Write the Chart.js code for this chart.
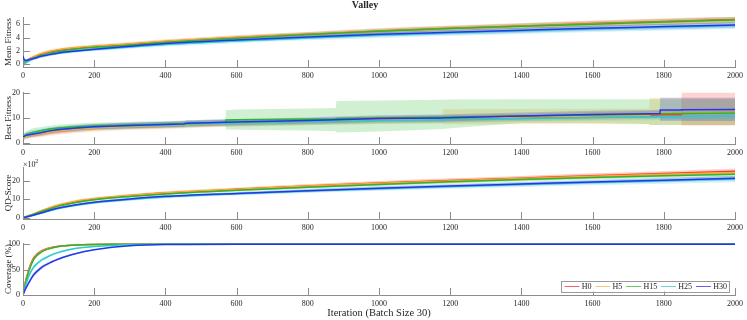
<!DOCTYPE html>
<html><head><meta charset="utf-8">
<script src="https://cdn.jsdelivr.net/npm/chart.js@4/dist/chart.umd.min.js"></script>
<style>
html,body{margin:0;padding:0;background:#fff;width:747px;height:320px;overflow:hidden;position:relative}
canvas{position:absolute;left:0}
</style></head><body>
<canvas id="c1" width="747" height="81" style="top:0px"></canvas>
<canvas id="c2" width="747" height="76" style="top:82px"></canvas>
<canvas id="c3" width="747" height="78" style="top:155px"></canvas>
<canvas id="c4" width="747" height="87" style="top:233px"></canvas>
<script>
// ---------------- data ----------------
const SERIES = ['H0','H5','H15','H25','H30'];
const ITER_TICKS = [0,200,400,600,800,1000,1200,1400,1600,1800,2000];

// Mean Fitness
const MF_X = [0,5,10,20,35,50,75,100,150,200,300,400,600,800,1000,1200,1400,1600,1800,2000];
const mfH0  = [0.0,0.3,0.5,0.85,1.2,1.5,1.85,2.1,2.45,2.65,3.0,3.4,4.0,4.5,5.0,5.4,5.75,6.1,6.4,6.7];
const mfH5  = [-0.2,0.1,0.4,0.85,1.25,1.6,1.95,2.2,2.5,2.7,3.05,3.45,4.05,4.5,4.95,5.35,5.7,6.05,6.35,6.6];
const mfH15 = [0.3,0.35,0.45,0.7,1.05,1.35,1.65,1.95,2.3,2.55,2.9,3.3,3.9,4.45,4.95,5.35,5.7,6.0,6.35,6.65];
const mfH25 = [0.0,0.15,0.3,0.6,0.95,1.2,1.5,1.7,2.0,2.2,2.6,2.95,3.5,3.95,4.35,4.7,5.0,5.3,5.55,5.8];
const mfH30 = [1.2,0.6,0.6,0.75,0.95,1.2,1.45,1.7,2.0,2.25,2.7,3.1,3.65,4.1,4.5,4.8,5.1,5.4,5.65,5.9];
const mfSdH0  = [0.10,0.2,0.2,0.2,0.2,0.2,0.2,0.2,0.22,0.24,0.26,0.28,0.32,0.36,0.4,0.42,0.44,0.46,0.48,0.5];
const mfSdH5  = [0.25,0.25,0.25,0.25,0.25,0.25,0.25,0.25,0.25,0.26,0.28,0.3,0.32,0.35,0.38,0.4,0.42,0.44,0.46,0.48];
const mfSdH15 = [0.15,0.15,0.18,0.2,0.2,0.2,0.2,0.2,0.21,0.22,0.24,0.26,0.28,0.3,0.33,0.36,0.38,0.4,0.42,0.44];
const mfSdH25 = [0.15,0.2,0.22,0.25,0.25,0.25,0.25,0.25,0.25,0.26,0.28,0.3,0.33,0.36,0.4,0.42,0.44,0.46,0.48,0.5];
const mfSdH30 = [0.35,0.2,0.2,0.2,0.2,0.2,0.2,0.2,0.2,0.2,0.22,0.25,0.28,0.3,0.32,0.34,0.36,0.38,0.4,0.42];
const MF_TICKS = [0,2,4,6];

// Best Fitness (lower / upper envelope given directly)
const BF_X = [0,10,25,50,75,100,150,200,300,400,450,460,500,569,570,600,800,879,880,1000,1179,1180,1200,1400,1600,1759,1760,1789,1790,1849,1850,2000];
const bfH0    = [2.2,3.0,3.5,4.0,4.6,5.0,5.7,6.2,6.8,7.2,7.4,7.5,7.7,8.0,8.0,8.1,8.7,8.9,8.9,9.3,9.6,9.6,9.7,10.2,10.8,11.2,11.2,11.3,11.3,11.3,12.0,12.2];
const bfLoH0  = [1.4,2.0,2.4,2.8,3.4,3.8,4.5,5.0,5.6,6.0,6.2,6.3,6.5,6.8,6.8,6.9,7.4,7.6,7.6,8.0,8.2,8.2,8.3,8.8,9.3,9.7,9.7,9.8,9.8,9.8,7.0,7.0];
const bfHiH0  = [3.0,4.0,4.6,5.2,5.8,6.2,6.9,7.4,8.0,8.4,8.6,8.7,8.9,9.2,9.2,9.3,10.0,10.2,10.2,10.7,11.1,11.1,11.2,11.7,12.4,12.8,12.8,12.9,12.9,12.9,20.0,20.0];
const bfH5    = [2.0,2.8,3.3,3.8,4.4,4.8,5.5,6.0,6.6,7.0,7.2,7.3,7.5,7.8,7.8,7.9,8.5,8.8,8.8,9.2,9.5,9.9,10.0,10.4,10.8,11.0,11.8,11.9,11.9,12.0,12.0,12.2];
const bfLoH5  = [1.0,1.6,2.0,2.5,3.0,3.4,4.1,4.6,5.2,5.6,5.8,5.9,6.1,6.4,6.4,6.5,7.1,7.3,7.3,7.6,7.8,7.5,7.5,7.5,7.5,7.5,7.2,7.2,7.2,7.2,7.2,7.2];
const bfHiH5  = [3.0,4.0,4.6,5.1,5.8,6.2,6.9,7.4,8.0,8.4,8.6,8.7,8.9,9.2,9.2,9.3,9.9,10.2,10.2,10.7,11.1,13.5,13.5,13.6,13.7,13.8,18.0,18.0,18.0,18.0,18.0,18.0];
const bfH15   = [2.8,3.5,4.2,5.0,5.6,6.0,6.5,6.8,7.2,7.5,7.7,7.8,8.0,8.2,9.2,9.3,9.5,9.6,9.8,10.0,10.3,10.3,10.4,10.8,11.2,11.5,11.6,11.7,11.7,11.8,11.8,12.0];
const bfLoH15 = [1.8,2.4,2.8,3.5,4.1,4.5,5.1,5.5,5.9,6.2,6.4,6.5,6.7,6.9,5.5,5.3,5.0,4.8,4.3,4.7,5.6,5.6,5.9,8.0,8.0,7.6,7.2,7.2,7.2,7.2,7.2,7.2];
const bfHiH15 = [3.8,4.8,5.8,6.4,6.9,7.3,7.8,8.1,8.5,8.8,9.0,9.1,9.3,9.5,13.1,13.4,13.8,14.0,16.7,16.9,17.2,17.2,17.3,17.4,17.4,17.4,17.4,17.4,17.4,17.4,17.4,17.4];
const bfH25   = [2.6,3.3,3.8,4.4,5.0,5.4,6.0,6.4,6.9,7.2,7.4,7.5,7.7,7.9,7.9,8.0,8.5,8.7,8.7,9.0,9.3,9.3,9.4,9.8,10.2,10.4,10.4,10.5,10.5,10.6,10.6,10.8];
const bfLoH25 = [1.3,2.0,2.5,3.1,3.7,4.1,4.7,5.1,5.6,5.9,6.1,6.2,6.4,6.6,6.6,6.7,7.2,7.4,7.4,7.7,8.0,8.0,8.1,8.5,8.9,9.1,9.1,9.2,9.2,9.3,9.3,9.5];
const bfHiH25 = [3.9,4.6,5.1,5.7,6.3,6.7,7.3,7.7,8.2,8.5,8.7,8.8,9.0,9.2,9.2,9.3,9.8,10.0,10.0,10.3,10.6,10.6,10.7,11.1,11.5,11.7,11.7,11.8,11.8,11.9,11.9,12.1];
const bfH30   = [2.5,3.2,3.6,4.2,4.9,5.4,6.0,6.5,7.0,7.4,7.6,7.9,8.0,8.3,8.3,8.4,9.0,9.3,9.3,9.8,10.0,10.0,10.1,10.8,11.4,11.7,11.7,11.8,13.2,13.2,13.3,13.4];
const bfLoH30 = [1.7,2.2,2.6,3.1,3.8,4.3,4.9,5.4,5.9,6.3,6.5,6.7,6.8,7.1,7.1,7.2,7.8,8.0,8.0,8.5,8.6,8.6,8.7,9.4,9.9,10.2,10.2,10.3,8.8,8.8,8.8,8.8];
const bfHiH30 = [3.3,4.2,4.6,5.3,6.0,6.5,7.1,7.6,8.1,8.5,8.7,9.1,9.2,9.5,9.5,9.6,10.2,10.6,10.6,11.1,11.4,11.4,11.5,12.2,12.9,13.2,13.2,13.3,18.0,18.0,18.0,18.0];
const BF_TICKS = [0,10,20];

// QD-Score (x 10^2)
const QD_X = [0,25,50,100,150,200,300,400,600,800,1000,1200,1400,1600,1800,2000];
const qdH0  = [0,1.6,3.4,6.6,8.7,10.1,12.0,13.4,15.4,17.2,18.8,20.2,21.5,22.8,24.0,25.2];
const qdH5  = [0,1.8,3.7,7.0,9.1,10.4,12.2,13.6,15.5,17.2,18.7,20.0,21.3,22.5,23.6,24.6];
const qdH15 = [0,1.5,3.2,6.3,8.3,9.7,11.5,12.9,14.9,16.6,18.1,19.5,20.8,21.9,22.8,23.6];
const qdH25 = [0,1.1,2.4,5.0,6.8,8.1,9.9,11.3,13.0,14.5,15.8,17.0,18.1,19.1,20.1,21.0];
const qdH30 = [0,1.2,2.6,5.3,7.1,8.4,10.2,11.6,13.2,14.7,16.0,17.2,18.3,19.4,20.4,21.4];
const qdSdH0  = [0,0.3,0.5,0.6,0.7,0.7,0.8,0.8,0.9,1.0,1.1,1.2,1.2,1.3,1.4,1.5];
const qdSdH5  = [0,0.3,0.5,0.6,0.6,0.7,0.7,0.8,0.9,1.0,1.0,1.1,1.2,1.2,1.3,1.4];
const qdSdH15 = [0,0.3,0.4,0.5,0.6,0.6,0.7,0.7,0.8,0.9,1.0,1.0,1.1,1.1,1.2,1.3];
const qdSdH25 = [0,0.3,0.4,0.5,0.6,0.7,0.8,0.9,1.0,1.1,1.2,1.3,1.4,1.5,1.6,1.7];
const qdSdH30 = [0,0.2,0.3,0.4,0.5,0.5,0.6,0.6,0.7,0.8,0.9,0.9,1.0,1.0,1.1,1.2];
const QD_TICKS = [0,10,20];

// Coverage (%)
const CV_X = [0,5,10,20,30,40,50,60,80,100,125,150,200,250,300,400,600,2000];
const cvH0  = [0,20,35,58,73,81,86,89.5,93.5,96,97.8,98.8,99.6,100,100,100,100,100];
const cvH5  = [0,19,34,56,71,79.5,85,88.5,93,95.7,97.6,98.7,99.6,100,100,100,100,100];
const cvH15 = [0,17,32,54,70,78.5,84,88,92.5,95.5,97.5,98.6,99.5,99.9,100,100,100,100];
const cvH25 = [0,13,25,43,55,62,68,72,79,84,88.5,92,95.5,97.8,99,99.8,100,100];
const cvH30 = [0,9,16,29,40,47,53,58,65,71,77,82,89,94,97,99.3,100,100];
const cvSdH0  = [0,3,4,4,3.5,3,2.5,2,1.5,1,0.8,0.5,0.3,0,0,0,0,0];
const cvSdH5  = [0,3,4,4,3.5,3,2.5,2,1.5,1.1,0.8,0.6,0.3,0,0,0,0,0];
const cvSdH15 = [0,3,4,4,3.5,3,2.5,2,1.5,1.1,0.8,0.6,0.3,0.1,0,0,0,0];
const cvSdH25 = [0,3,4,4.5,4.5,4,3.5,3,2.5,2,1.6,1.2,0.8,0.5,0.3,0.1,0,0];
const cvSdH30 = [0,2.5,3.5,4,4,4,3.5,3,2.5,2,1.6,1.2,0.8,0.5,0.3,0.1,0,0];
const CV_TICKS = [0,50,100];

// ---------------- style ----------------
const FONT = '"Liberation Serif", "Times New Roman", serif';
const TXT = '#262626';
const AXIS = '#8c8c8c';
const LINE_COLORS = ['#f23a3a','#ffa638','#2db52d','#2ec9c9','#2238e8'];
const BAND_COLORS = ['rgba(242,58,58,0.22)','rgba(255,166,56,0.24)','rgba(45,181,45,0.22)','rgba(46,201,201,0.22)','rgba(34,56,232,0.22)'];
const LEGEND_COLORS = ['#f06464','#fcc484','#64c864','#70d4d4','#6464e6'];

function pts(xs, ys) { return xs.map((x, i) => ({x: x, y: ys[i]})); }

function buildSets(xs, means, lows, highs) {
  const ds = [];
  SERIES.forEach((name, s) => {
    ds.push({label: name + ' upper', data: pts(xs, highs[s]), borderWidth: 0, pointRadius: 0, fill: false, order: 200 - 2 * s});
    ds.push({label: name + ' lower', data: pts(xs, lows[s]), borderWidth: 0, pointRadius: 0, fill: '-1', backgroundColor: BAND_COLORS[s], order: 199 - 2 * s});
  });
  SERIES.forEach((name, s) => {
    ds.push({label: name, data: pts(xs, means[s]), borderColor: LINE_COLORS[s], borderWidth: 1.5, pointRadius: 0, fill: false, order: 10 - s});
  });
  return ds;
}
function sdSets(xs, means, sds) {
  const lows = means.map((m, s) => m.map((v, i) => v - sds[s][i]));
  const highs = means.map((m, s) => m.map((v, i) => v + sds[s][i]));
  return buildSets(xs, means, lows, highs);
}

function drawLegend(ctx, a) {
  ctx.font = '8px ' + FONT;
  const lineLen = 15, g1 = 2.3, g2 = 3.8, padL = 3, padR = 2, h = 11;
  const widths = SERIES.map(s => ctx.measureText(s).width);
  let w = padL + padR;
  widths.forEach((tw, i) => { w += lineLen + g1 + tw + (i < widths.length - 1 ? g2 : 0); });
  const right = a.right - 6, bottom = a.bottom - 3.5;
  const left = right - w, top = bottom - h;
  ctx.fillStyle = '#ffffff';
  ctx.fillRect(left, top, w, h);
  ctx.strokeStyle = '#9a9a9a'; ctx.lineWidth = 1;
  ctx.strokeRect(Math.round(left) + 0.5, Math.round(top) + 0.5, Math.round(w), Math.round(h));
  let x = left + padL; const cy = Math.round(top + h / 2) + 0.5;
  ctx.textBaseline = 'middle'; ctx.textAlign = 'left';
  SERIES.forEach((s, i) => {
    ctx.strokeStyle = LEGEND_COLORS[i]; ctx.lineWidth = 1;
    ctx.beginPath(); ctx.moveTo(x, cy); ctx.lineTo(x + lineLen, cy); ctx.stroke();
    x += lineLen + g1;
    ctx.fillStyle = TXT; ctx.fillText(s, x, cy + 0.5);
    x += widths[i] + g2;
  });
}

const decor = {
  id: 'decor',
  afterDatasetsDraw(chart, args, o) {
    const ctx = chart.ctx, a = chart.chartArea, xs = chart.scales.x, ys = chart.scales.y;
    ctx.save();
    ctx.strokeStyle = '#8c8c8c'; ctx.lineWidth = 1;
    ctx.beginPath();
    xs.ticks.forEach(t => { const px = Math.round(xs.getPixelForValue(t.value)) + 0.5; ctx.moveTo(px, a.bottom); ctx.lineTo(px, a.bottom - 7); });
    ys.ticks.forEach(t => { const py = Math.round(ys.getPixelForValue(t.value)) + 0.5; ctx.moveTo(a.left, py); ctx.lineTo(a.left + 7, py); });
    ctx.stroke();
    (o.texts || []).forEach(t => {
      ctx.font = t.font; ctx.fillStyle = TXT; ctx.textAlign = t.align || 'left'; ctx.textBaseline = 'alphabetic';
      ctx.fillText(t.text, t.x, t.y);
    });
    if (o.legend) drawLegend(ctx, a);
    ctx.restore();
  }
};

function makeChart(id, cfg) {
  return new Chart(document.getElementById(id), {
    type: 'line',
    data: {datasets: cfg.datasets},
    options: {
      responsive: false, animation: false, devicePixelRatio: 1,
      layout: {padding: {top: cfg.padTop, right: 9, left: 0, bottom: 0}},
      elements: {line: {cubicInterpolationMode: cfg.smooth ? 'monotone' : 'default', tension: 0}},
      plugins: {legend: {display: false}, tooltip: {enabled: false}, decor: cfg.decor || {}},
      scales: {
        x: {
          type: 'linear', min: 0, max: 2000,
          afterBuildTicks: ax => { ax.ticks = ITER_TICKS.map(v => ({value: v})); },
          afterFit: s => { s.height = cfg.xh; },
          grid: {display: false, drawTicks: false},
          border: {display: true, color: AXIS, width: 1},
          ticks: {autoSkip: false, maxRotation: 0, padding: 4, color: TXT, font: {family: FONT, size: 8}, callback: v => String(v)},
          title: cfg.xTitle ? {display: true, text: cfg.xTitle, color: TXT, font: {family: FONT, size: 10.5}, padding: {top: 0, bottom: 0.8}} : {display: false}
        },
        y: {
          type: 'linear', min: cfg.ymin, max: cfg.ymax,
          afterBuildTicks: ax => { ax.ticks = cfg.yticks.map(v => ({value: v})); },
          afterFit: s => { s.width = 23; },
          grid: {display: false, drawTicks: false},
          border: {display: true, color: AXIS, width: 1},
          ticks: {padding: 3, color: TXT, font: {family: FONT, size: 8}, callback: v => String(v)},
          title: {display: true, text: cfg.yTitle, color: TXT, font: {family: FONT, size: 9}, padding: {top: 3.5, bottom: 0}}
        }
      }
    },
    plugins: [decor]
  });
}

makeChart('c1', {
  datasets: sdSets(MF_X, [mfH0, mfH5, mfH15, mfH25, mfH30], [mfSdH0, mfSdH5, mfSdH15, mfSdH25, mfSdH30]),
  padTop: 17, xh: 14, ymin: -0.405, ymax: 7.09, yticks: MF_TICKS, yTitle: 'Mean Fitness', smooth: true,
  decor: {texts: [{text: 'Valley', x: 365, y: 7.8, align: 'center', font: 'bold 10px ' + FONT}]}
});
makeChart('c2', {
  datasets: buildSets(BF_X, [bfH0, bfH5, bfH15, bfH25, bfH30], [bfLoH0, bfLoH5, bfLoH15, bfLoH25, bfLoH30], [bfHiH0, bfHiH5, bfHiH15, bfHiH25, bfHiH30]),
  padTop: 10, xh: 14, ymin: -0.3, ymax: 20.3, yticks: BF_TICKS, yTitle: 'Best Fitness', smooth: false
});
makeChart('c3', {
  datasets: sdSets(QD_X, [qdH0, qdH5, qdH15, qdH25, qdH30], [qdSdH0, qdSdH5, qdSdH15, qdSdH25, qdSdH30]),
  padTop: 12, xh: 14, ymin: -0.7, ymax: 27.55, yticks: QD_TICKS, yTitle: 'QD-Score', smooth: true,
  decor: {texts: [{text: '\u00d710', x: 23, y: 11.5, font: '8px ' + FONT}, {text: '2', x: 35.2, y: 8, font: '6px ' + FONT}]}
});
makeChart('c4', {
  datasets: sdSets(CV_X, [cvH0, cvH5, cvH15, cvH25, cvH30], [cvSdH0, cvSdH5, cvSdH15, cvSdH25, cvSdH30]),
  padTop: 10, xh: 25, ymin: 0, ymax: 102.5, yticks: CV_TICKS, yTitle: 'Coverage (%)', smooth: true,
  xTitle: 'Iteration (Batch Size 30)',
  decor: {legend: true}
});
</script>
</body></html>
